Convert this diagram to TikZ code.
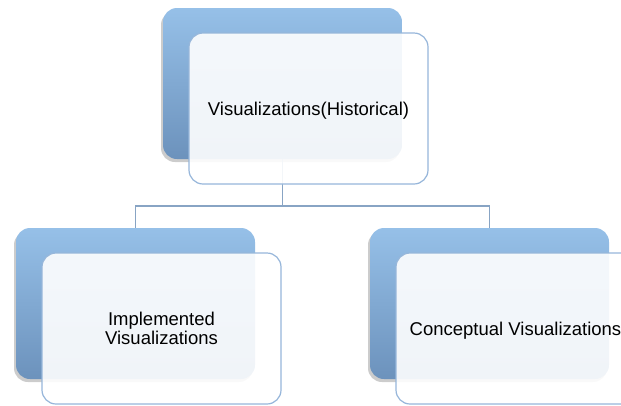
\documentclass[tikz,border=0pt]{standalone}
\usepackage{fontspec}
\setmainfont{Liberation Sans}
\usetikzlibrary{shadows}

\definecolor{boxtop}{RGB}{150,192,232}
\definecolor{boxbot}{RGB}{108,146,188}
\definecolor{rim}{RGB}{150,182,218}
\definecolor{wire}{RGB}{136,164,196}

\begin{document}
\begin{tikzpicture}[x=1pt,y=-1pt,
	back/.style={rectangle,rounded corners=14pt,minimum width=239pt,minimum height=151pt,
		inner sep=0pt,top color=boxtop,bottom color=boxbot,
		drop shadow={shadow xshift=-2pt,shadow yshift=-3pt,opacity=0.4}},
	front/.style={rectangle,rounded corners=14pt,minimum width=239pt,minimum height=151pt,
		inner sep=0pt,draw=rim,line width=1.2pt,fill=white,fill opacity=0.9,text opacity=1,
		align=center,text depth=0pt,font=\fontsize{18.5}{19}\selectfont},
	link/.style={draw=wire,line width=1.6pt}]

\clip (0,0) rectangle (621,405);

\def\off{(26,25)}

\node[back] (hist) at (282.5,83.5) {};
\node[back] (impl) at (135.5,303.5) {};
\node[back] (conc) at (489.5,303.5) {};

\draw[link] (hist.south) -- ++(0,47) coordinate (bus) -| (impl.north);
\draw[link] (bus) -| (conc.north);

\node[front] (histtext) at ([shift=\off]hist.center) {Visualizations(Historical)};
\node[front] (impltext) at ([shift=\off]impl.center) {Implemented\\Visualizations};
\node[front] (conctext) at ([shift=\off]conc.center) {Conceptual Visualizations};

\end{tikzpicture}
\end{document}
